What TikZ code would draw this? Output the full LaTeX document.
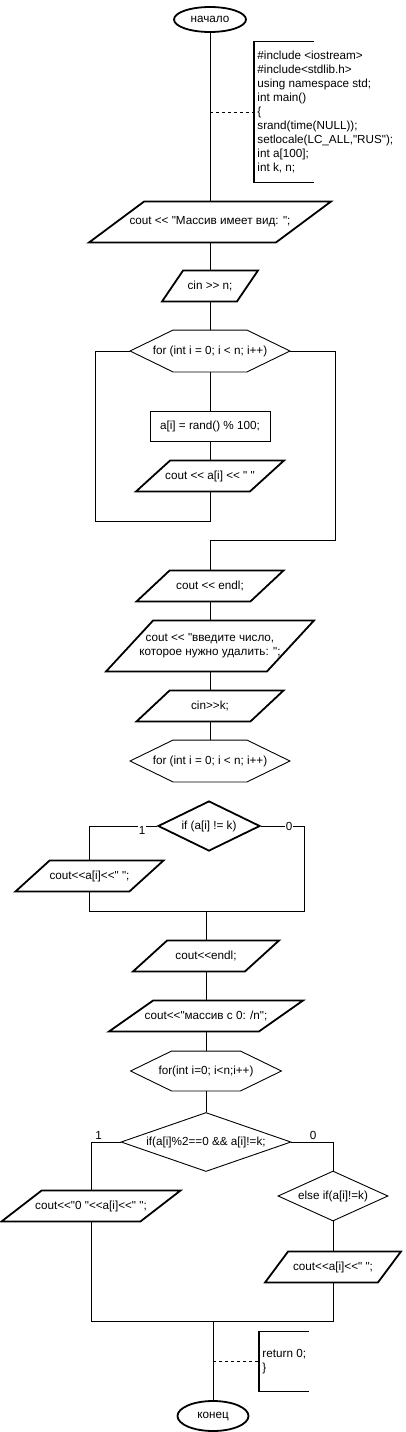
\documentclass[tikz,border=0pt]{standalone}
\usepackage{fontspec}
\setmainfont{Liberation Sans}[Ligatures=TeXOff]
\usetikzlibrary{shapes.geometric}

\tikzset{
  term/.style={ellipse, draw, line width=1.8pt, minimum width=72pt, minimum height=25pt, inner sep=0pt},
  io/.style={rectangle, minimum height=30pt, inner sep=0pt},
  proc/.style={rectangle, draw, minimum width=120pt, minimum height=30pt},
  cond/.style={diamond, draw, inner sep=0pt, aspect=2},
  cycl/.style={rectangle, minimum height=41pt, inner sep=0pt},
  note/.style={rectangle, minimum height=#1, inner xsep=3pt, inner ysep=0pt, anchor=west, align=left},
  lbl/.style={fill=white, inner sep=1pt},
  outl/.style={line width=1.8pt},
  dots/.style={dash pattern=on 3pt off 3pt},
}

\begin{document}
\begin{tikzpicture}[x=1pt, y=-1pt, line width=0.9pt, font=\fontsize{11.7}{14}\selectfont]
	\useasboundingbox (0,0) rectangle (405,1432);
	% nodes
	\node[term] (start) at (210,19.5) {начало};
	\node[note=140pt] (note1) at (254,112) {\#include <iostream>\\\#include<stdlib.h>\\using namespace std;\\int main()\\\{\\srand(time(NULL));\\setlocale(LC\_ALL,"RUS");\\int a[100];\\int k, n;};
	\node[io, minimum width=241pt, minimum height=40pt] (p1) at (210,222) {cout << "Массив имеет вид: ";};
	\node[io, minimum width=95pt] (p2) at (210,286) {cin >> n;};
	\node[cycl, minimum width=159pt] (f1) at (210,351) {for (int i = 0; i < n; i++)};
	\node[proc] (b1) at (210,426) {a[i] = rand() \% 100;};
	\node[io, minimum width=147pt] (p3) at (210,476) {cout << a[i] << " "};
	\node[io, minimum width=146pt] (p4) at (210,586) {cout << endl;};
	\node[io, minimum width=207pt, minimum height=50pt, align=center] (p5) at (210,646) {cout << "введите число,\\которое нужно удалить: ";};
	\node[io, minimum width=146pt] (p6) at (210,706) {cin>>k;};
	\node[cycl, minimum width=159pt] (f2) at (210,761) {for (int i = 0; i < n; i++)};
	\node[cond, outl, minimum width=102pt, minimum height=50pt] (d1) at (209,826) {if (a[i] != k)};
	\node[io, minimum width=147pt] (p7) at (89.5,876) {cout<<a[i]<<" ";};
	\node[io, minimum width=145pt] (p8) at (206,956) {cout<<endl;};
	\node[io, minimum width=193pt] (p9) at (206,1016) {cout<<"массив с 0: /n";};
	\node[cycl, minimum width=150pt, minimum height=39pt] (f3) at (206,1071) {for(int i=0; i<n;i++)};
	\node[cond, minimum width=170pt, minimum height=59pt, aspect=2.9] (d2) at (206,1142) {if(a[i]\%2==0 \&\& a[i]!=k;};
	\node[cond, minimum width=110pt, minimum height=50pt, aspect=2.2] (d3) at (333,1196) {else if(a[i]!=k)};
	\node[io, minimum width=178pt] (p10) at (91,1206) {cout<<"0 "<<a[i]<<" ";};
	\node[io, minimum width=135pt] (p11) at (333,1267) {cout<<a[i]<<" ";};
	\node[term, minimum width=71pt, minimum height=30pt] (end) at (213,1416) {конец};
	\node[note=59pt] (note2) at (259,1361.5) {return 0;\\\}};
	\coordinate (j1) at (p8.north |- 0,911);
	\coordinate (j2) at (end.north |- 0,1321);
	% outlines
	\foreach \n/\s in {p1/55, p2/21, p3/34, p4/33, p5/47, p6/33, p7/34, p8/34, p9/44, p10/40, p11/23}
		\draw[outl] ([xshift=\s pt]\n.north west) -- (\n.north east) -- ([xshift=-\s pt]\n.south east) -- (\n.south west) -- cycle;
	\foreach \n/\c in {f1/43, f2/43, f3/41}
		\draw (\n.west) -- ([xshift=\c pt]\n.north west) -- ([xshift=-\c pt]\n.north east) -- (\n.east) -- ([xshift=-\c pt]\n.south east) -- ([xshift=\c pt]\n.south west) -- cycle;
	\draw[outl] ([xshift=60pt]note1.north west) -- (note1.north west) -- (note1.south west) -- ([xshift=60pt]note1.south west);
	\draw[outl] ([xshift=50pt]note2.north west) -- (note2.north west) -- (note2.south west) -- ([xshift=50pt]note2.south west);
	% connectors
	\draw (start.south) -- (p1.north);
	\draw[dots] (start.south |- note1.west) -- (note1.west);
	\draw (p1.south) -- (p2.north);
	\draw (p2.south) -- (f1.north);
	\draw (f1.south) -- (b1.north);
	\draw (b1.south) -- (p3.north);
	\draw (p3.south) -- ++(0,30) -| ([xshift=-35pt]f1.west) -- (f1.west);
	\draw (f1.east) -- ++(45,0) |- ([yshift=30pt]p4.north) -- (p4.north);
	\draw (p4.south) -- (p5.north);
	\draw (p5.south) -- (p6.north);
	\draw (p6.south) -- (f2.north);
	\draw (d1.west) -| (p7.north) node[pos=0.11, lbl, yshift=-4pt] {1};
	\draw (d1.east) -- ++(44,0) node[pos=0.64, lbl] {0} |- ([yshift=-20pt]p7.south) -- (p7.south);
	\draw (j1) -- (p8.north);
	\draw (p8.south) -- (p9.north);
	\draw (p9.south) -- (f3.north);
	\draw (f3.south) -- (d2.north);
	\draw (d2.west) -| (p10.north) node[pos=0.37, above, inner sep=2pt] {1};
	\draw (d2.east) -| (d3.north) node[pos=0.26, above, inner sep=2pt] {0};
	\draw (d3.south) -- (p11.north);
	\draw (p10.south) |- ([yshift=-39pt]p11.south) -- (p11.south);
	\draw (j2) -- (end.north);
	\draw[dots] (end.north |- note2.west) -- (note2.west);
\end{tikzpicture}
\end{document}
